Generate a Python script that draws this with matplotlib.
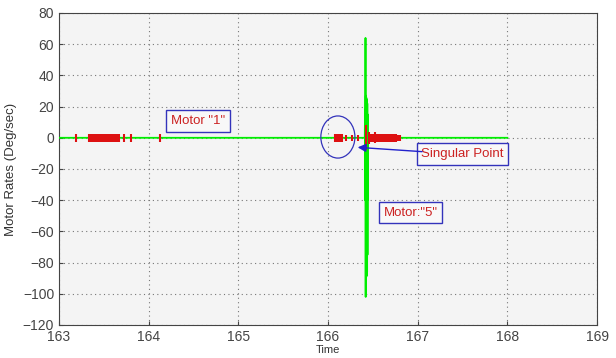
import matplotlib
matplotlib.use("Agg")
from matplotlib import pyplot as plt
from matplotlib.patches import Ellipse

plt.rcParams['font.family'] = ['Liberation Sans', 'DejaVu Sans']

# motor 5 rate (green), sparse samples with the burst near 166.43 s
green_t = [163.0, 166.410, 166.413, 166.416, 166.418, 166.420, 166.422, 166.424, 166.426,
           166.428, 166.430, 166.432, 166.434, 166.436, 166.438, 166.440, 166.442, 166.444, 166.446, 168.0]
green_v = [0, 0, 18, -40, 64, -102, 27, -90, 26, -89, 25, -88, 24, -86, 22, -75, 15, -40, 0, 0]

# motor 1 rate (red), short spikes around zero
red_t = [163.19, 163.33, 163.35, 163.37, 163.39, 163.41, 163.43, 163.45, 163.47, 163.49,
         163.51, 163.53, 163.55, 163.57, 163.59, 163.61, 163.63, 163.65, 163.67,
         163.73, 163.80, 164.13,
         166.08, 166.10, 166.12, 166.14, 166.16, 166.20, 166.27, 166.33, 166.42,
         166.46, 166.48, 166.50, 166.52, 166.54, 166.56, 166.58, 166.60, 166.62,
         166.64, 166.66, 166.68, 166.70, 166.72, 166.74, 166.76, 166.78, 166.80]
red_a = [2.5, 2.5, 2.5, 2.5, 2.5, 2.5, 2.5, 2.5, 2.5, 2.5,
         2.5, 2.5, 2.5, 2.5, 2.5, 2.5, 2.5, 2.5, 2.5,
         2.5, 2.5, 2.5,
         2.5, 2.5, 2.5, 2.5, 2.5, 2, 2, 2, 8,
         4, 2.5, 2.5, 3.5, 2.5, 2.5, 2.5, 2.5, 2.5,
         2.5, 2.5, 2.5, 2.5, 2.5, 2.5, 2.5, 2, 2]

xticks = [163, 164, 165, 166, 167, 168, 169]
yticks = [80, 60, 40, 20, 0, -20, -40, -60, -80, -100, -120]

fig = plt.figure(figsize=(6.16, 3.58), dpi=100)
ax = fig.add_axes([0.0958, 0.0922, 0.8734, 0.8715])
ax.set_facecolor('#f4f4f4')

ax.plot(green_t, green_v, color='#00ee00', lw=1.3, zorder=3)
ax.vlines(red_t, [-a for a in red_a], red_a, color='#dd1111', lw=1.5, zorder=4)

ax.set_xlim(163, 169)
ax.set_ylim(-120, 80)
ax.set_xticks(xticks)
ax.set_yticks(yticks)
ax.tick_params(labelsize=10, direction='in', length=3, colors='#444444')
ax.grid(True, linestyle=(0, (1, 3)), color='#777777', lw=0.8)
for s in ax.spines.values():
    s.set_color('#444444')
    s.set_linewidth(0.8)

ax.set_xlabel('Time', fontsize=8, labelpad=1, color='#333333')
ax.set_ylabel('Motor Rates (Deg/sec)', fontsize=9.5, labelpad=4, color='#333333')

box = dict(boxstyle='square,pad=0.35', fc='#f8f8f8', ec='#3333bb', lw=1.0)
ax.text(164.55, 10.7, 'Motor "1"', color='#cc2222', fontsize=9.5, ha='center', va='center', bbox=box, zorder=6)
ax.text(167.50, -10.4, 'Singular Point', color='#cc2222', fontsize=9.5, ha='center', va='center', bbox=box, zorder=6)
ax.text(166.92, -48, 'Motor:"5"', color='#cc2222', fontsize=9.5, ha='center', va='center', bbox=box, zorder=6)

ax.add_patch(Ellipse((166.11, 0.5), 0.38, 27, fill=False, ec='#3333bb', lw=0.9, zorder=5))
ax.annotate('', xy=(166.30, -6), xytext=(167.08, -9),
            arrowprops=dict(arrowstyle='-|>', color='#2222cc', lw=1.0, mutation_scale=12), zorder=6)

fig.savefig('out.png', dpi=100)
